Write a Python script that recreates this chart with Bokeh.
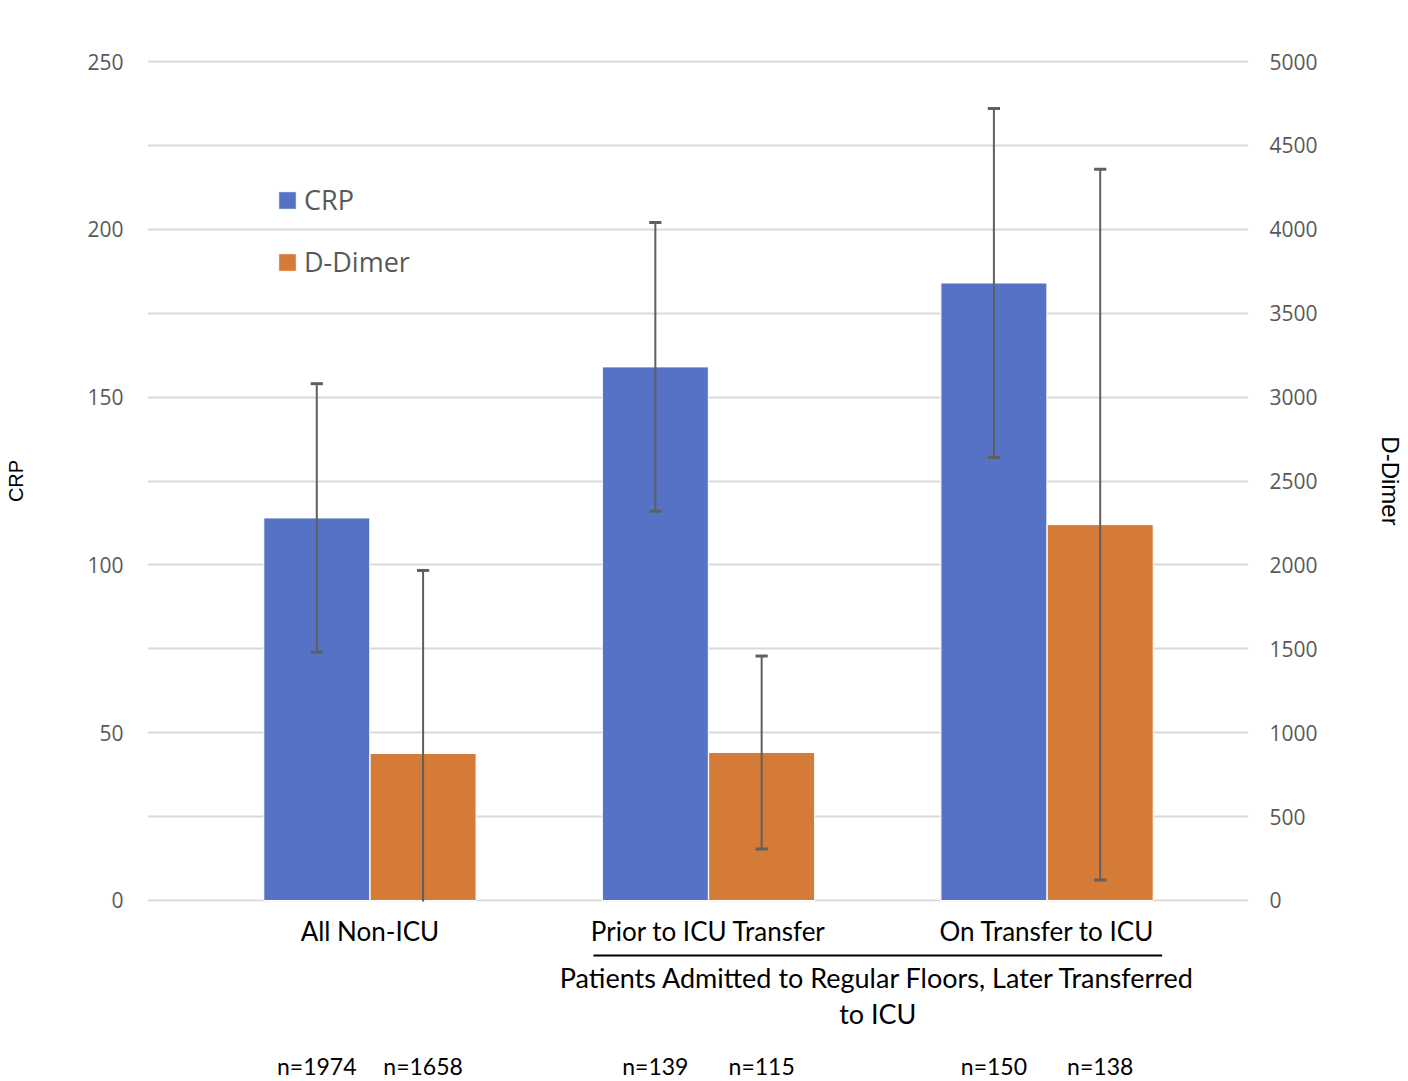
from bokeh.plotting import figure
from bokeh.models import (Range1d, LinearAxis, FixedTicker, Legend, LegendItem,
                          ColumnDataSource)
from bokeh.layouts import column
from bokeh.embed import file_html
from bokeh.resources import INLINE
from bokeh.core.properties import value

# ---------------- data ----------------
groups = ["All Non-ICU", "Prior to ICU Transfer", "On Transfer to ICU"]
crp_mean = [114, 159, 184]
crp_err = [40, 43, 52]
dd_mean = [876, 882, 2240]
dd_err = [1091, 575, 2118]
crp_n = ["n=1974", "n=139", "n=150"]
dd_n = ["n=1658", "n=115", "n=138"]
crp_ticks = [0, 50, 100, 150, 200, 250]
dd_ticks = [0, 500, 1000, 1500, 2000, 2500, 3000, 3500, 4000, 4500, 5000]
grid_ticks = [0, 25, 50, 75, 100, 125, 150, 175, 200, 225, 250]
bracket_label = ["Patients Admitted to Regular Floors, Later Transferred", "to ICU"]

BLUE = "#5572C4"
ORANGE = "#D57B38"
ERR = "#5f5f5f"
TICKC = "#595959"

gx = [1, 2, 3]
off = 0.157
bw = 0.313
cap = 0.018
crp_x = [g - off for g in gx]
dd_x = [g + off for g in gx]

W = 1408
LB = 147
RB = W - 1248
TOP_H = 915
BOT_H = 164
PAD = 0.3  # small range padding so the 0 and 250 gridlines are not clipped

xr = Range1d(0.343, 3.595)
p = figure(width=W, height=TOP_H, x_range=xr, y_range=Range1d(-PAD, 250 + PAD),
           output_backend="svg", toolbar_location=None, x_axis_location=None,
           min_border_left=LB, min_border_right=RB, min_border_top=60,
           min_border_bottom=14)
p.extra_y_ranges = {"dd": Range1d(-PAD * 20, 5000 + PAD * 20)}
p.outline_line_color = None
p.xgrid.visible = False
p.ygrid.ticker = FixedTicker(ticks=grid_ticks)
p.ygrid.grid_line_color = "#d9d9d9"
p.ygrid.grid_line_width = 2

ya = p.yaxis[0]
ya.ticker = FixedTicker(ticks=crp_ticks)
ya.axis_label = "CRP"
ya.axis_label_text_font = "Liberation Sans"
ya.axis_label_text_font_size = "20px"
ya.axis_label_text_font_style = "normal"
ya.axis_label_text_color = "black"
ya.axis_label_standoff = 57
ya.major_label_text_font = "Open Sans"
ya.major_label_text_font_size = "21px"
ya.major_label_text_color = TICKC
ya.major_label_standoff = 18
ya.axis_line_color = None
ya.major_tick_line_color = None
ya.minor_tick_line_color = None

ra = LinearAxis(y_range_name="dd", ticker=FixedTicker(ticks=dd_ticks))
ra.axis_label = "D-Dimer"
ra.axis_label_text_font = "Liberation Sans"
ra.axis_label_text_font_size = "24px"
ra.axis_label_text_font_style = "normal"
ra.axis_label_text_color = "black"
ra.axis_label_standoff = 56
ra.major_label_text_font = "Open Sans"
ra.major_label_text_font_size = "21px"
ra.major_label_text_color = TICKC
ra.major_label_standoff = 15
ra.axis_line_color = None
ra.major_tick_line_color = None
ra.minor_tick_line_color = None
p.add_layout(ra, "right")

src_crp = ColumnDataSource(dict(x=crp_x, top=crp_mean,
                                lo=[m - e for m, e in zip(crp_mean, crp_err)],
                                hi=[m + e for m, e in zip(crp_mean, crp_err)],
                                cl=[x - cap for x in crp_x], cr=[x + cap for x in crp_x]))
src_dd = ColumnDataSource(dict(x=dd_x, top=dd_mean,
                               lo=[m - e for m, e in zip(dd_mean, dd_err)],
                               hi=[m + e for m, e in zip(dd_mean, dd_err)],
                               cl=[x - cap for x in dd_x], cr=[x + cap for x in dd_x]))

r_crp = p.vbar(x="x", top="top", bottom=0, width=bw, source=src_crp,
               fill_color=BLUE, line_color="white", line_width=1)
r_dd = p.vbar(x="x", top="top", bottom=0, width=bw, source=src_dd,
              fill_color=ORANGE, line_color="white", line_width=1, y_range_name="dd")

for src, rn in ((src_crp, "default"), (src_dd, "dd")):
    p.segment(x0="x", x1="x", y0="lo", y1="hi", source=src, line_color=ERR,
              line_width=2, y_range_name=rn)
    p.segment(x0="cl", x1="cr", y0="hi", y1="hi", source=src, line_color=ERR,
              line_width=3, y_range_name=rn)
    p.segment(x0="cl", x1="cr", y0="lo", y1="lo", source=src, line_color=ERR,
              line_width=3, y_range_name=rn)

legend = Legend(items=[LegendItem(label="CRP", renderers=[r_crp]),
                       LegendItem(label="D-Dimer", renderers=[r_dd])],
                location=(129, 621), margin=0, padding=0, spacing=25,
                glyph_width=22, glyph_height=22, label_standoff=6,
                label_text_font="Open Sans", label_text_font_size="27px",
                label_text_color=TICKC, border_line_color=None,
                background_fill_alpha=0)
p.add_layout(legend)

# ---------------- bottom annotation strip ----------------
b = figure(width=W, height=BOT_H, x_range=xr, y_range=Range1d(BOT_H, 0),
           output_backend="svg", toolbar_location=None,
           x_axis_location=None, y_axis_location=None,
           min_border_left=LB, min_border_right=RB, min_border_top=0,
           min_border_bottom=0)
b.outline_line_color = None
b.grid.visible = False

F = value("Lato")
b.text(x=gx, y=[15] * 3, text=groups, text_font=F, text_font_size="26px",
       text_align="center", text_baseline="middle", text_color="black")
b.segment(x0=[gx[1] - 0.34], x1=[gx[2] + 0.34], y0=[40], y1=[40],
          line_color="black", line_width=2)
b.text(x=[(gx[1] + gx[2]) / 2] * 2, y=[62, 98], text=bracket_label, text_font=F,
       text_font_size="27px", text_align="center", text_baseline="middle",
       text_color="black")
b.text(x=crp_x + dd_x, y=[150] * 6, text=crp_n + dd_n, text_font=F,
       text_font_size="23px", text_align="center", text_baseline="middle",
       text_color="black")

layout = column(p, b, spacing=0)
open("out.html", "w").write(file_html(layout, INLINE))
